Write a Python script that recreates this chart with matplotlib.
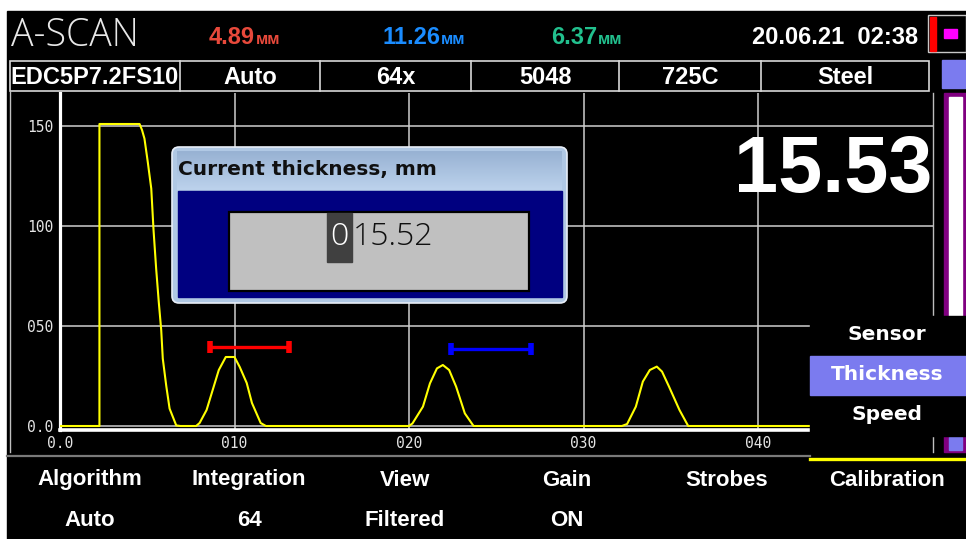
import numpy as np
import matplotlib
matplotlib.use("Agg")
import matplotlib.pyplot as plt
from matplotlib.patches import Rectangle, FancyBboxPatch
from matplotlib.colors import LinearSegmentedColormap

W, H, DPI = 966, 539, 100

# A-scan trace (x in mm, amplitude in screen units)
signal_x = [0.0, 2.26, 2.26, 4.56, 4.70, 4.84, 5.03, 5.23, 5.36, 5.51, 5.66, 5.80,
            5.89, 6.09, 6.28, 6.66, 6.90,
            7.8, 8.0, 8.4, 8.75, 9.1, 9.5, 10.0, 10.3, 10.7, 11.0, 11.5, 11.8,
            20.0, 20.2, 20.8, 21.2, 21.6, 21.94, 22.3, 22.7, 23.2, 23.7,
            32.2, 32.5, 33.0, 33.4, 33.8, 34.2, 34.5, 34.9, 35.5, 36.0, 50.0]
signal_y = [0.0, 0.0, 151, 151, 148, 143.7, 132, 118.7, 98, 78.7, 62, 48,
            33.7, 20, 8.7, 0.3, 0.0,
            0.0, 1.5, 8, 18, 28, 34.5, 34.5, 29.5, 21.5, 11.5, 1.5, 0.0,
            0.0, 1.3, 9.7, 21.3, 28.8, 30.5, 28, 19.7, 6.3, 0.0,
            0.0, 1.0, 9.7, 22.2, 28, 29.7, 27.2, 19.7, 8, 0.0, 0.0]

x_ticks = [0, 10, 20, 30, 40]
x_tick_labels = ["0.0", "010", "020", "030", "040"]
y_ticks = [0, 50, 100, 150]
y_tick_labels = ["0.0", "050", "100", "150"]

gate_a = [8.57, 13.15]
gate_a_level = 39.5
gate_b = [22.4, 27.0]
gate_b_level = 38.5

readings = ["4.89", "11.26", "6.37"]
reading_colors = ["#e8493b", "#1a8cff", "#22c08e"]
date_text = "20.06.21  02:38"
status_cells = ["EDC5P7.2FS10", "Auto", "64x", "5048", "725C", "Steel"]
menu_items = ["Sensor", "Thickness", "Speed"]
footer_titles = ["Algorithm", "Integration", "View", "Gain", "Strobes", "Calibration"]
footer_values = ["Auto", "64", "Filtered", "ON", "", ""]
thickness = "15.53"
entry_value = "015.52"

SANS = ["Liberation Sans", "DejaVu Sans"]
LIGHT = ["Open Sans", "DejaVu Sans"]
GRID = "#cfcfcf"


def px_box(l, t, r, b):
    return [l / W, 1 - b / H, (r - l) / W, (b - t) / H]


def rect(axu, l, t, r, b, **kw):
    axu.add_patch(Rectangle((l, t), r - l, b - t, **kw))


fig = plt.figure(figsize=(W / DPI, H / DPI), dpi=DPI, facecolor="white")

# screen background
bg = fig.add_axes([0, 0, 1, 1], zorder=0)
bg.set_xlim(0, W)
bg.set_ylim(H, 0)
bg.axis("off")
rect(bg, 7, 11, W, H, color="black")

# ---- the A-scan plot ----
ax = fig.add_axes(px_box(60, 93, 932.5, 430), zorder=1)
ax.set_facecolor("black")
ax.set_xlim(0, 50)
ax.set_ylim(-2, 166.5)
ax.grid(True, color=GRID, lw=1.1)
ax.set_axisbelow(True)
ax.plot(signal_x, signal_y, color="#ffff00", lw=1.5, zorder=3)
for (g0, g1), lvl, col in [(gate_a, gate_a_level, "#ff0000"), (gate_b, gate_b_level, "#0000ff")]:
    ax.plot([g0, g1], [lvl, lvl], color=col, lw=2.4, solid_capstyle="butt", zorder=4)
    ax.plot([g0, g1], [lvl, lvl], ls="none", marker="|", ms=9, mew=4, color=col, zorder=4)
ax.set_xticks(x_ticks, x_tick_labels)
ax.set_yticks(y_ticks, y_tick_labels)
ax.tick_params(length=0, colors="#e4e4e4", labelsize=10.5, pad=4)
ax.tick_params(axis="y", pad=5)
for lab in ax.get_xticklabels() + ax.get_yticklabels():
    lab.set_fontfamily("DejaVu Sans Mono")
ax.spines["top"].set_visible(False)
ax.spines["left"].set_color("white")
ax.spines["left"].set_linewidth(2.3)
ax.spines["bottom"].set_color("white")
ax.spines["bottom"].set_linewidth(2.6)
ax.spines["right"].set_color("#bdbdbd")
ax.spines["right"].set_linewidth(1.0)

# ---- UI overlay ----
ui = fig.add_axes([0, 0, 1, 1], zorder=2)

# header
ui.text(11, 36, "A-SCAN", color="#e8e8e8", fontsize=27, family=LIGHT, weight="light",
        ha="left", va="center")
num_right = [255, 440, 597]
for val, col, xr in zip(readings, reading_colors, num_right):
    ui.text(xr, 37, val, color=col, fontsize=17, family=SANS, weight="bold", ha="right", va="center")
    ui.text(xr + 1, 39, "мм", color=col, fontsize=12, family=SANS, weight="bold", ha="left", va="center")
ui.text(918, 37, date_text, color="white", fontsize=17, family=SANS, weight="bold", ha="right", va="center")

# status row
cell_edges = [10, 180, 320, 471, 619, 761, 929]
rect(ui, 10, 61, 929, 91, fill=False, ec="#d8d8d8", lw=1.2)
for xe in cell_edges[1:-1]:
    ui.plot([xe, xe], [61, 91], color="#d8d8d8", lw=1.2)
for i, txt in enumerate(status_cells):
    ui.text((cell_edges[i] + cell_edges[i + 1]) / 2, 77, txt, color="white", fontsize=17,
            family=SANS, weight="bold", ha="center", va="center")

# frame lines around the plot
ui.plot([10, 10], [91, 452], color="#c0c0c0", lw=1.0)
ui.plot([933, 933], [430, 452], color="#c0c0c0", lw=1.0)
ui.plot([7, 810], [456, 456], color="#7a7a7a", lw=1.6)

# right-hand indicators
rect(ui, 928, 15, 966, 52, fc="black", ec="#c8c8c8", lw=1.0)
rect(ui, 930, 17, 936, 51, color="#ff0000")
rect(ui, 944, 29, 957, 38, color="#ff00ff")
rect(ui, 942, 60, 966, 88, color="#7b7bef")
rect(ui, 944, 93, 966, 452, color="#800080")
rect(ui, 949, 97, 962, 436, color="white")
rect(ui, 949, 437, 962, 450, color="#7b7bef")

# big thickness readout
ui.text(932, 192, thickness, color="white", fontsize=57, family="Liberation Sans", weight="bold",
        ha="right", va="baseline")

# dialog
ui.add_patch(FancyBboxPatch((172, 147), 395, 156, boxstyle="round,pad=0,rounding_size=7",
                            fc="#b0c8e4", ec="#e8eef8", lw=1.2))
grad = np.linspace(0, 1, 40).reshape(-1, 1)
ui.imshow(grad, cmap=LinearSegmentedColormap.from_list("t", ["#98b2d3", "#bcd2ec"]),
          extent=(177, 562, 190, 151), aspect="auto", zorder=2)
ui.text(178, 170, "Current thickness, mm", color="#101010", fontsize=14.5, family="DejaVu Sans",
        weight="bold", ha="left", va="center", zorder=3)
rect(ui, 178, 191, 562, 297, color="#000080", zorder=2)
rect(ui, 229, 212, 529, 291, fc="#c0c0c0", ec="black", lw=1.6, zorder=3)
rect(ui, 327, 213, 352, 262, color="#404040", zorder=4)
ui.text(339.5, 237, entry_value[0], color="white", fontsize=23, family=LIGHT, weight="light",
        ha="center", va="center", zorder=5)
ui.text(353, 237, entry_value[1:], color="#101010", fontsize=23, family=LIGHT, weight="light",
        ha="left", va="center", zorder=5)

# side menu
rect(ui, 810, 316, 966, 436, color="black", zorder=2)
rect(ui, 810, 356, 966, 395, color="#7b7bef", zorder=2)
for txt, yy in zip(menu_items, [335, 375, 415]):
    ui.text(887, yy, txt, color="white", fontsize=14.5, family="DejaVu Sans", weight="bold",
            ha="center", va="center", zorder=3)

# footer
ui.plot([810, 966], [459, 459], color="#ffff00", lw=2.4)
footer_x = [90, 249, 405, 567, 727, 887]
for xx, t, v in zip(footer_x, footer_titles, footer_values):
    ui.text(xx, 480, t, color="white", fontsize=16, family=SANS, weight="bold", ha="center", va="center")
    if v:
        ui.text(xx, 520, v, color="white", fontsize=16, family=SANS, weight="bold", ha="center", va="center")

ui.set_xlim(0, W)
ui.set_ylim(H, 0)
ui.axis("off")

fig.savefig("out.png", dpi=DPI, facecolor="white")
